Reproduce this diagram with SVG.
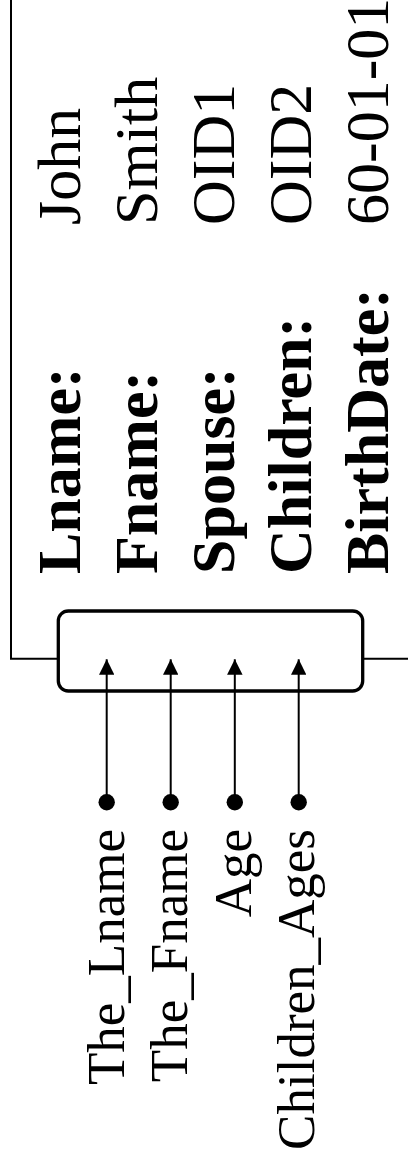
<svg xmlns="http://www.w3.org/2000/svg" width="408" height="1165" viewBox="0 0 408 1165">
<style>
.frame{fill:none;stroke:#000;stroke-width:2}
.box{fill:#fff;stroke:#000;stroke-width:3.3}
.conn{fill:none;stroke:#000;stroke-width:2}
.key{font-family:"Liberation Serif","Times New Roman",serif;font-size:62px;font-weight:bold;fill:#000}
.val{font-family:"Liberation Serif","Times New Roman",serif;font-size:62px;fill:#000}
.lbl{font-family:"Liberation Serif","Times New Roman",serif;font-size:53px;fill:#000;text-anchor:end}
</style>
<defs>
<marker id="arrow" viewBox="0 0 15.5 15.5" refX="15.5" refY="7.75" markerWidth="15.5" markerHeight="15.5" markerUnits="userSpaceOnUse" orient="auto">
<path d="M0,0 L15.5,7.75 L0,15.5 z" fill="#000"/>
</marker>
<marker id="dot" viewBox="0 0 17 17" refX="8.5" refY="8.5" markerWidth="17" markerHeight="17" markerUnits="userSpaceOnUse" orient="auto">
<circle cx="8.5" cy="8.5" r="8.2" fill="#000"/>
</marker>
</defs>
<g id="record">
<path class="frame" d="M11,0 V658.7 H58"/>
<path class="frame" d="M363,658.7 H408"/>
<text class="key" transform="translate(80,574) rotate(-90)">Lname:</text>
<text class="key" transform="translate(157,574) rotate(-90)">Fname:</text>
<text class="key" transform="translate(234,574) rotate(-90)">Spouse:</text>
<text class="key" transform="translate(311,574) rotate(-90)">Children:</text>
<text class="key" transform="translate(388,574) rotate(-90)">BirthDate:</text>
<text class="val" transform="translate(80,225) rotate(-90)">John</text>
<text class="val" transform="translate(157,225) rotate(-90)">Smith</text>
<text class="val" transform="translate(234,225) rotate(-90)">OID1</text>
<text class="val" transform="translate(311,225) rotate(-90)">OID2</text>
<text class="val" transform="translate(388,225) rotate(-90)">60-01-01</text>
</g>
<g id="view">
<rect class="box" x="58.3" y="611" width="304.4" height="80" rx="10" ry="10"/>
</g>
<g id="connectors">
<line class="conn" x1="106.7" y1="802.3" x2="106.7" y2="659.3" marker-start="url(#dot)" marker-end="url(#arrow)"/>
<line class="conn" x1="170.7" y1="802.3" x2="170.7" y2="659.3" marker-start="url(#dot)" marker-end="url(#arrow)"/>
<line class="conn" x1="234.8" y1="802.3" x2="234.8" y2="659.3" marker-start="url(#dot)" marker-end="url(#arrow)"/>
<line class="conn" x1="298.7" y1="802.3" x2="298.7" y2="659.3" marker-start="url(#dot)" marker-end="url(#arrow)"/>
</g>
<g id="label-lname"><text class="lbl" transform="translate(124,829) rotate(-90)">The_Lname</text></g>
<g id="label-fname"><text class="lbl" transform="translate(187.3,829) rotate(-90)">The_Fname</text></g>
<g id="label-age"><text class="lbl" transform="translate(250.7,829) rotate(-90)">Age</text></g>
<g id="label-children-ages"><text class="lbl" transform="translate(314,829) rotate(-90)">Children_Ages</text></g>
</svg>
